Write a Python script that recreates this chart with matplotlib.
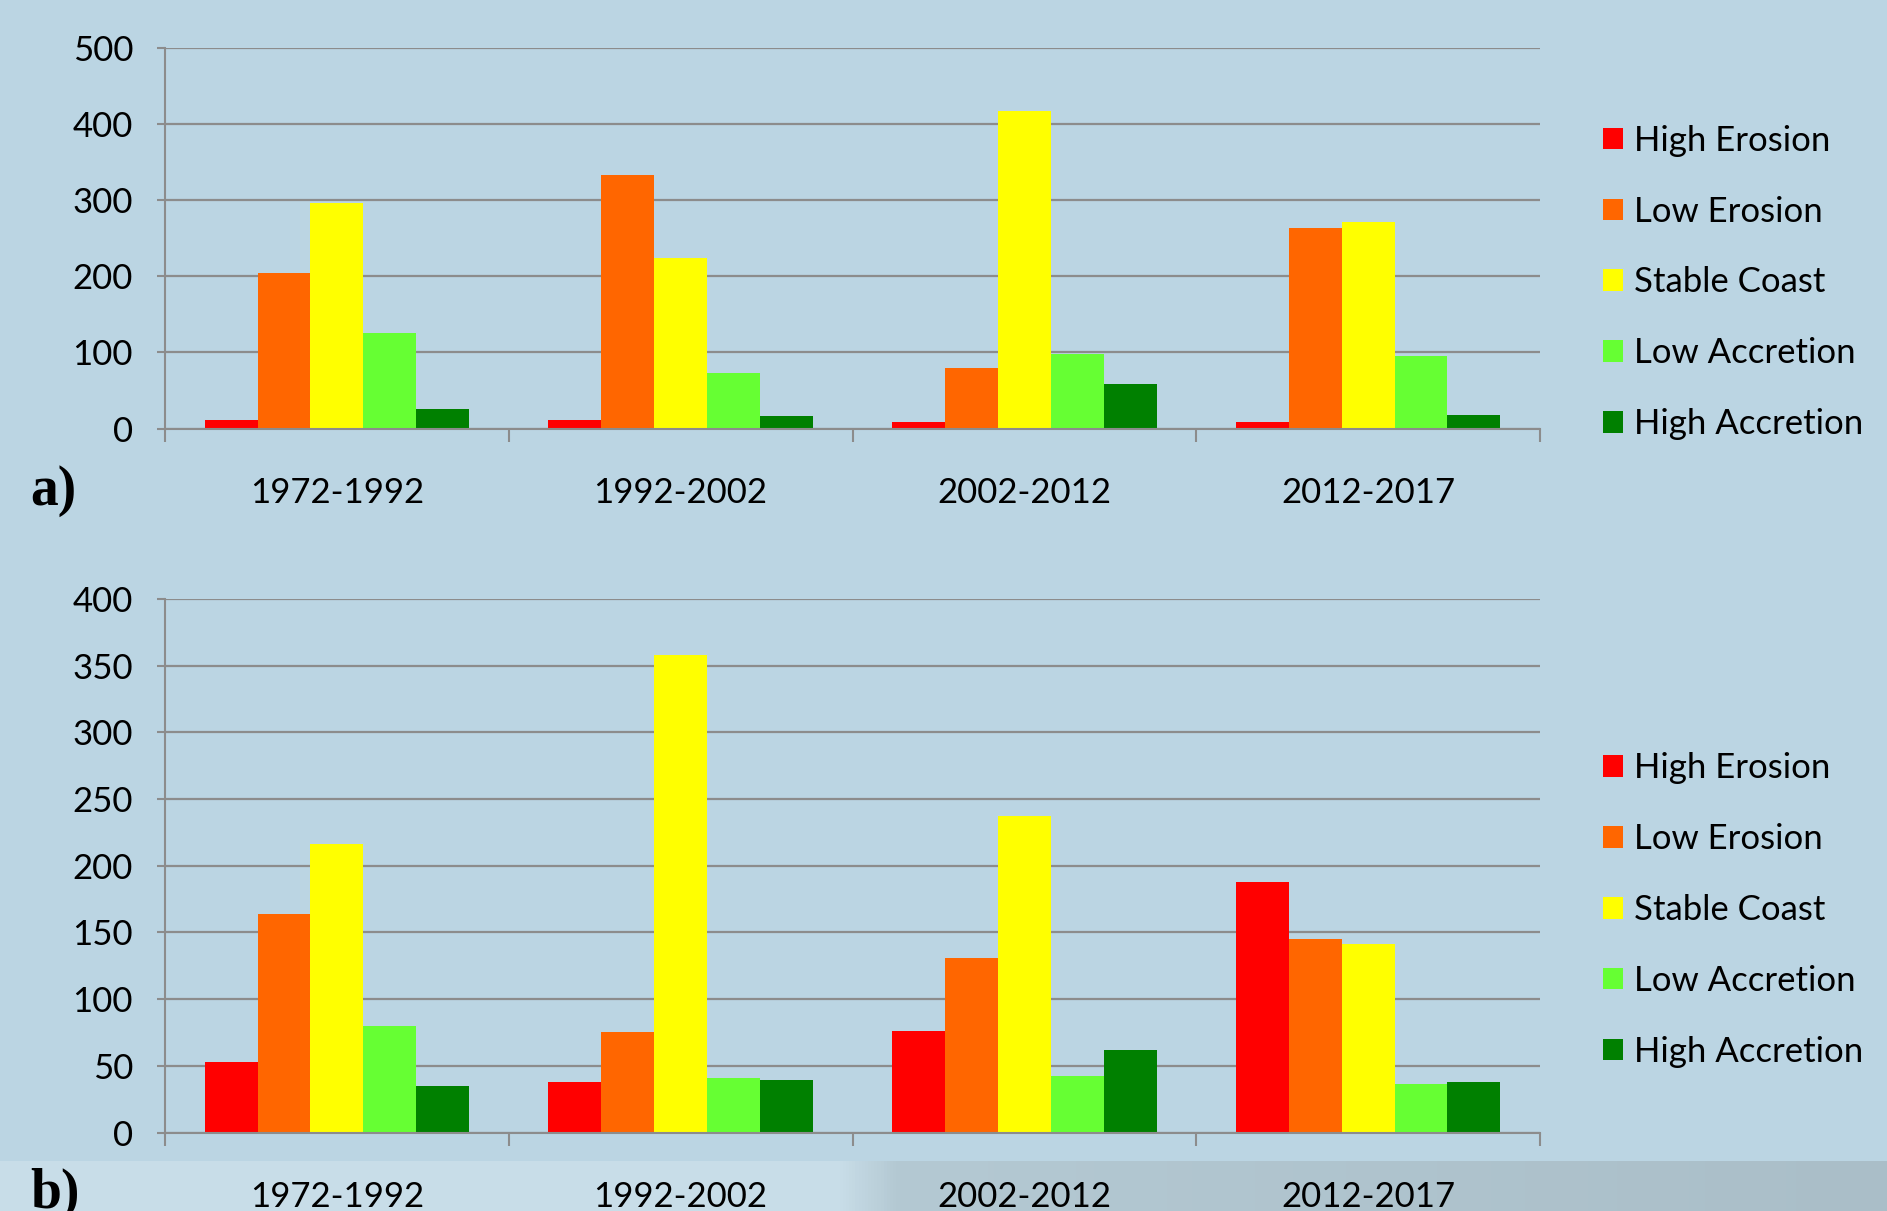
import matplotlib
matplotlib.use('Agg')
import matplotlib.pyplot as plt
import numpy as np
from matplotlib.patches import Patch

# ---------------- data ----------------
periods = ['1972-1992', '1992-2002', '2002-2012', '2012-2017']
classes = ['High Erosion', 'Low Erosion', 'Stable Coast', 'Low Accretion', 'High Accretion']
colors = ['#FF0000', '#FF6600', '#FFFF00', '#66FF33', '#008000']

a_high_erosion = [11, 11, 9, 9]
a_low_erosion = [204, 333, 80, 264]
a_stable_coast = [296, 224, 417, 271]
a_low_accretion = [125, 73, 98, 95]
a_high_accretion = [26, 16, 58, 18]

b_high_erosion = [53, 38, 76, 188]
b_low_erosion = [164, 75, 131, 145]
b_stable_coast = [216, 358, 237, 141]
b_low_accretion = [80, 41, 42, 36]
b_high_accretion = [35, 39, 62, 38]

a_ticks = [0, 100, 200, 300, 400, 500]
b_ticks = [0, 50, 100, 150, 200, 250, 300, 350, 400]

# ---------------- style ----------------
W, H = 1887, 1211
bg = '#BBD5E3'
grid_c = '#8C8C8C'
FONT = 'Lato'
FS = 25

fig = plt.figure(figsize=(W / 100, H / 100), dpi=100, facecolor=bg)

# bottom strip (background of the original slide)
strip = fig.add_axes([0, 0, 1, 50 / H], zorder=-5)
grad = np.ones((2, 600, 3))
xs = np.linspace(0, 1, 600)
left_c = np.array([200, 221, 232]) / 255
right1 = np.array([180, 201, 211]) / 255
right2 = np.array([170, 190, 200]) / 255
for i, x in enumerate(xs):
    if x < 0.445:
        grad[:, i] = left_c
    elif x < 0.475:
        t = (x - 0.445) / 0.03
        grad[:, i] = left_c * (1 - t) + right1 * t
    else:
        t = (x - 0.475) / 0.525
        grad[:, i] = right1 * (1 - t) + right2 * t
strip.imshow(grad, aspect='auto', extent=[0, 1, 0, 1])
strip.axis('off')


def px_axes(left, top, right, bottom):
    return fig.add_axes([left / W, 1 - bottom / H, (right - left) / W, (bottom - top) / H])


def draw(ax, series, ticks):
    n = len(series)
    w = 1 / (n + 1.5)
    centers = np.arange(len(periods)) + 0.5
    for i, (vals, c) in enumerate(zip(series, colors)):
        ax.bar(centers + (i - (n - 1) / 2) * w, vals, width=w, color=c, zorder=3,
               linewidth=0)
    ax.set_xlim(0, len(periods))
    ax.set_ylim(ticks[0], ticks[-1])
    ax.set_facecolor(bg)
    ax.patch.set_alpha(0)
    for s in ['top', 'right']:
        ax.spines[s].set_visible(False)
    for s in ['left', 'bottom']:
        ax.spines[s].set_color(grid_c)
        ax.spines[s].set_linewidth(1.5)
        ax.spines[s].set_zorder(4)
    ax.set_yticks(ticks)
    ax.set_yticklabels([str(t) for t in ticks], fontfamily=FONT, fontsize=FS)
    ax.yaxis.grid(True, color=grid_c, linewidth=1.6, zorder=0)
    ax.set_axisbelow(True)
    ax.tick_params(axis='y', length=6, width=1.5, color=grid_c, pad=17)
    ax.set_xticks(np.arange(len(periods) + 1))
    ax.set_xticklabels([])
    ax.tick_params(axis='x', which='major', length=9, width=1.5, color=grid_c)
    ax.set_xticks(centers, minor=True)
    ax.set_xticklabels(periods, minor=True, fontfamily=FONT, fontsize=FS)
    ax.tick_params(axis='x', which='minor', length=0, pad=35)


ax_a = px_axes(165, 48, 1540, 428.5)
draw(ax_a, [a_high_erosion, a_low_erosion, a_stable_coast, a_low_accretion, a_high_accretion], a_ticks)

ax_b = px_axes(165, 599, 1540, 1132.5)
draw(ax_b, [b_high_erosion, b_low_erosion, b_stable_coast, b_low_accretion, b_high_accretion], b_ticks)

handles = [Patch(facecolor=c, edgecolor='none') for c in colors]
for yc in [1 - 282.5 / H, 1 - 910 / H]:
    fig.legend(handles, classes, loc='center left', bbox_to_anchor=(1603 / W, yc),
               frameon=False, prop={'family': FONT, 'size': FS},
               handlelength=0.58, handleheight=0.58, handletextpad=0.32,
               labelspacing=1.12, borderpad=0, borderaxespad=0)

fig.text(30 / W, 1 - 491 / H, 'a)', fontfamily='Liberation Serif', fontweight='bold',
         fontsize=40, va='center', ha='left')
fig.text(30 / W, 1 - 1168 / H, 'b)', fontfamily='Liberation Serif', fontweight='bold',
         fontsize=40, va='top', ha='left')

fig.savefig('out.png', dpi=100, facecolor=bg)
